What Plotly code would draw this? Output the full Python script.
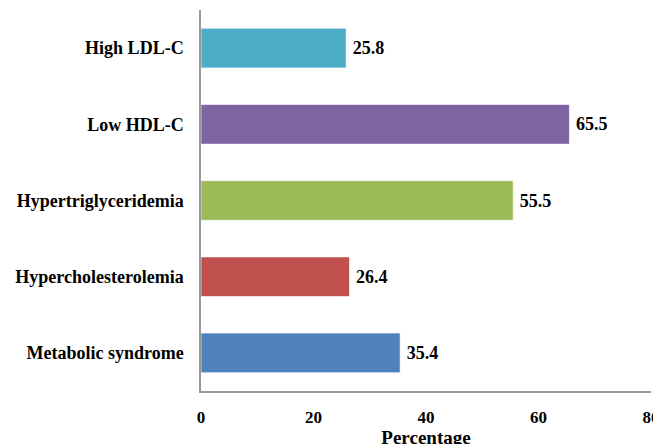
import plotly.graph_objects as go

categories = ["Metabolic syndrome", "Hypercholesterolemia", "Hypertriglyceridemia", "Low HDL-C", "High LDL-C"]
values = [35.4, 26.4, 55.5, 65.5, 25.8]
colors = ["#4F81BD", "#C0504D", "#9BBB59", "#8064A2", "#4BACC6"]
x_ticks = [0, 20, 40, 60, 80]

font_family = "Liberation Serif, Times New Roman, serif"

fig = go.Figure(go.Bar(
    y=categories, x=values, orientation="h",
    marker=dict(color=colors, line=dict(color="rgba(255,255,255,0.6)", width=1)),
    width=0.52,
    text=[f"{v:.1f}" for v in values], textposition="outside",
    textfont=dict(family=font_family, size=18, color="black"),
    texttemplate="\u2009<b>%{text}</b>", cliponaxis=False,
))

fig.update_layout(
    width=661, height=444,
    margin=dict(l=193, r=18, t=2, b=61),
    plot_bgcolor="white", paper_bgcolor="white",
    showlegend=False,
    font=dict(family=font_family, color="black"),
)
fig.update_xaxes(
    range=[0, 80], tickvals=x_ticks, ticktext=[f"<b>{t}</b>" for t in x_ticks],
    tickfont=dict(size=17, family=font_family), showgrid=False, zeroline=False,
    showline=True, linecolor="#999999", linewidth=1.5, ticks="",
    ticklabelstandoff=10, ticklabeloverflow="allow", automargin=False,
    title=dict(text="<b>Percentage</b>", font=dict(size=19, family=font_family), standoff=0),
)
fig.update_yaxes(
    categoryorder="array", categoryarray=categories,
    ticktext=[f"<b>{c}</b>" for c in categories], tickvals=categories,
    tickfont=dict(size=18, family=font_family), showgrid=False, zeroline=False,
    showline=True, linecolor="#999999", linewidth=1.5, ticks="",
    ticklabelstandoff=12, automargin=False,
)

fig.write_html("out.html")
